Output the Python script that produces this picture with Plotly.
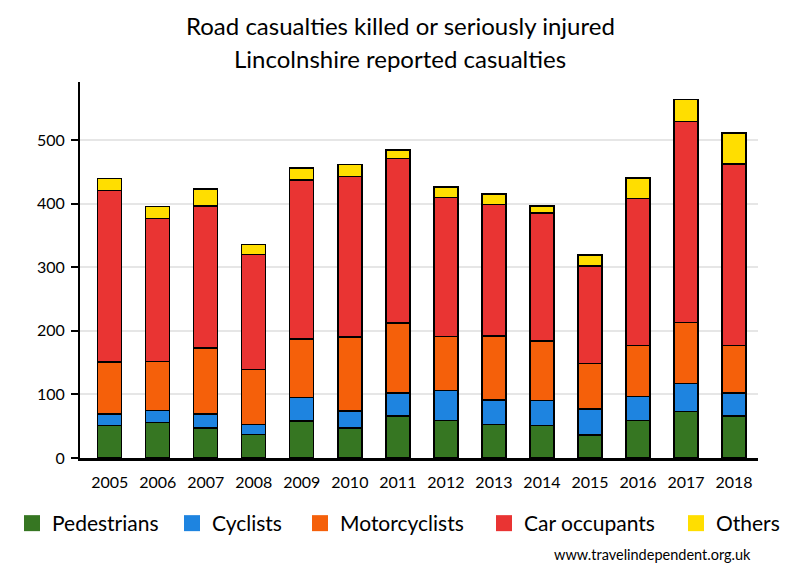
import plotly.graph_objects as go

years = ["2005", "2006", "2007", "2008", "2009", "2010", "2011",
         "2012", "2013", "2014", "2015", "2016", "2017", "2018"]
pedestrians = [51, 56, 47, 37, 58, 47, 66, 59, 53, 51, 36, 59, 73, 66]
cyclists = [18, 19, 22, 16, 37, 27, 36, 47, 38, 39, 41, 38, 44, 36]
motorcyclists = [82, 77, 104, 86, 92, 116, 110, 85, 101, 94, 72, 80, 96, 75]
car_occupants = [269, 224, 223, 181, 250, 252, 259, 219, 207, 201, 153, 231, 316, 285]
others = [19, 19, 27, 16, 19, 19, 13, 16, 16, 11, 17, 32, 35, 49]

names = ["Pedestrians", "Cyclists", "Motorcyclists", "Car occupants", "Others"]
values = [pedestrians, cyclists, motorcyclists, car_occupants, others]
colors = ["#367622", "#1e84e0", "#f5600a", "#e93433", "#ffde00"]

FONT = "Lato"
W, H = 792, 572          # page body adds an 8px offset
L, T = 72, 74
PW, PH = 678, 376

fig = go.Figure()
for name, vals, col in zip(names, values, colors):
    fig.add_trace(go.Bar(
        x=years, y=vals, name=name, legendgroup=name, showlegend=False,
        marker=dict(color=col, line=dict(color="black", width=1.3)),
        width=0.5,
    ))

legend_left = [23, 183, 311, 495, 687]   # page px of legend squares
legend_layouts = {}
for i, (name, col) in enumerate(zip(names, colors)):
    key = "legend" if i == 0 else f"legend{i + 1}"
    fig.add_trace(go.Scatter(
        x=[None], y=[None], mode="markers", name=name, legendgroup=name,
        showlegend=True, legend=key,
        marker=dict(symbol="square", size=16, color=col, line=dict(width=0)),
    ))
    legend_layouts[key] = dict(
        orientation="h", xref="container", yref="container",
        x=(legend_left[i] - 8 - 11) / W, xanchor="left",
        y=1 - (523.5 - 8) / H, yanchor="middle",
        font=dict(size=21, family=FONT), itemclick=False,
        bgcolor="rgba(0,0,0,0)",
    )

fig.update_layout(
    width=W, height=H,
    barmode="stack",
    plot_bgcolor="white", paper_bgcolor="white",
    margin=dict(l=L, r=W - L - PW, t=T, b=H - T - PH),
    font=dict(family=FONT, color="black", size=16),
    showlegend=True,
    xaxis=dict(
        type="category", range=[-0.62, 13.5],
        showline=True, linecolor="black", linewidth=3,
        ticks="", showgrid=False, tickfont=dict(size=16),
        ticklabelstandoff=8,
    ),
    yaxis=dict(
        range=[0, 591], tickvals=[0, 100, 200, 300, 400, 500],
        showline=True, linecolor="black", linewidth=2,
        ticks="outside", ticklen=7, tickwidth=2, tickcolor="black",
        showgrid=True, gridcolor="#e6e6e6", gridwidth=2,
        zeroline=False, tickfont=dict(size=16), ticklabelstandoff=3,
    ),
    annotations=[
        dict(text="Road casualties killed or seriously injured", xref="paper", yref="paper",
             x=(400 - 80) / PW, y=(458 - 26) / PH, xanchor="center", yanchor="middle",
             showarrow=False, font=dict(size=24, family=FONT)),
        dict(text="Lincolnshire reported casualties", xref="paper", yref="paper",
             x=(400 - 80) / PW, y=(458 - 59) / PH, xanchor="center", yanchor="middle",
             showarrow=False, font=dict(size=24, family=FONT)),
        dict(text="www.travelindependent.org.uk", xref="paper", yref="paper",
             x=(753 - 80) / PW, y=(458 - 554) / PH, xanchor="right", yanchor="middle",
             showarrow=False, font=dict(size=14.5, family=FONT)),
    ],
    **legend_layouts,
)

fig.write_html("out.html")
